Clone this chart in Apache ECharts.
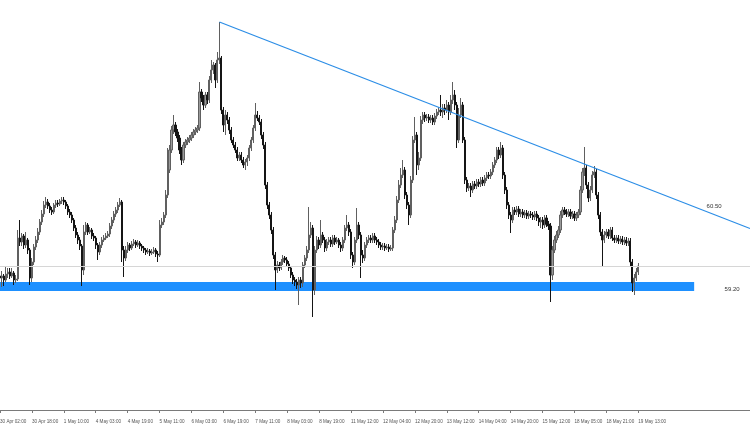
<!DOCTYPE html>
<html><head><meta charset="utf-8">
<script src="https://cdn.jsdelivr.net/npm/echarts/dist/echarts.min.js"></script>
<style>html,body{margin:0;padding:0;background:#fff;overflow:hidden;width:750px;height:430px;position:relative}#c{position:absolute;left:-3px;top:0;width:756px;height:430px}</style>
</head><body><div id="c"></div>
<script>
// Hourly bars; one time label every 16 bars
const tickLabels = ['30 Apr 02:00','30 Apr 18:00','1 May 10:00','4 May 03:00','4 May 19:00','5 May 11:00','6 May 03:00','6 May 19:00','7 May 11:00','8 May 03:00','8 May 19:00','11 May 12:00','12 May 04:00','12 May 20:00','13 May 12:00','14 May 04:00','14 May 20:00','15 May 12:00','18 May 05:00','18 May 21:00','19 May 13:00'];

const opens = [
59.48,59.44,59.48,59.40,59.52,59.56,59.48,59.54,59.40,59.42,
60.24,60.16,60.28,60.10,60.20,60.00,59.44,59.76,60.06,60.20,
60.36,60.56,60.72,60.90,60.96,60.88,60.80,60.76,60.90,60.94,
60.92,60.98,61.00,60.96,60.88,60.76,60.70,60.60,60.44,60.30,
60.20,60.08,59.60,60.36,60.50,60.36,60.40,60.28,60.24,60.10,
59.96,60.10,60.20,60.24,60.28,60.32,60.48,60.60,60.72,60.80,
60.90,60.96,60.00,59.84,60.00,60.10,60.04,60.12,60.16,60.10,
60.14,60.08,60.04,60.00,59.96,59.98,59.94,59.96,60.00,59.92,
59.90,60.50,60.56,60.70,61.10,61.60,62.00,62.40,62.50,62.36,
62.24,62.00,61.80,62.10,62.16,62.20,62.24,62.30,62.36,62.40,
62.44,63.16,63.04,62.90,63.10,63.00,63.40,63.60,63.70,63.40,
63.80,63.84,62.80,62.50,62.70,62.60,62.40,62.20,62.10,62.00,
61.84,61.90,61.80,61.70,61.76,61.84,62.04,62.20,62.44,62.70,
62.64,62.56,62.30,62.10,61.30,60.90,60.70,60.40,59.90,59.60,
59.70,59.64,59.76,59.84,59.80,59.72,59.64,59.50,59.40,59.36,
59.30,59.40,59.34,59.70,59.84,60.00,60.30,60.44,59.20,60.00,
60.20,60.10,60.30,60.20,60.04,60.16,60.20,60.12,60.24,60.16,
60.20,60.10,60.04,60.20,60.44,60.50,60.36,59.90,59.76,60.20,
60.50,60.30,59.90,59.84,60.10,60.20,60.24,60.20,60.28,60.20,
60.16,60.10,60.06,60.08,60.04,60.06,60.02,60.04,60.40,60.60,
61.00,61.30,61.50,61.60,61.10,60.90,60.70,61.40,62.20,62.30,
61.70,61.84,62.60,62.70,62.64,62.66,62.60,62.64,62.56,62.68,
62.76,62.80,62.76,62.84,62.80,62.90,62.76,63.00,63.10,62.90,
62.20,62.70,62.90,62.20,61.40,61.24,61.28,61.20,61.32,61.28,
61.36,61.32,61.40,61.34,61.44,61.50,61.48,61.56,61.70,61.80,
62.00,61.90,62.04,61.50,61.20,60.90,60.70,60.60,60.80,60.76,
60.82,60.72,60.76,60.70,60.74,60.68,60.72,60.70,60.66,60.72,
60.64,60.56,60.60,60.50,60.64,60.52,60.48,59.50,60.00,60.20,
60.30,60.40,60.70,60.80,60.76,60.72,60.76,60.68,60.72,60.64,
60.70,60.76,61.20,61.56,61.64,61.30,61.04,61.20,61.50,61.56,
61.10,60.70,60.36,60.20,60.30,60.36,60.28,60.40,60.24,60.20,
60.24,60.18,60.22,60.16,60.20,60.14,60.18,59.76,59.34,59.44,
59.56];

const closes = [
59.44,59.48,59.40,59.52,59.56,59.48,59.54,59.40,59.42,60.24,
60.16,60.28,60.10,60.20,60.00,59.44,59.76,60.06,60.20,60.36,
60.56,60.72,60.90,60.96,60.88,60.80,60.76,60.90,60.94,60.92,
60.98,61.00,60.96,60.88,60.76,60.70,60.60,60.44,60.30,60.20,
60.08,59.60,60.36,60.50,60.36,60.40,60.28,60.24,60.10,59.96,
60.10,60.20,60.24,60.28,60.32,60.48,60.60,60.72,60.80,60.90,
60.96,60.00,59.84,60.00,60.10,60.04,60.12,60.16,60.10,60.14,
60.08,60.04,60.00,59.96,59.98,59.94,59.96,60.00,59.92,59.90,
60.50,60.56,60.70,61.10,61.60,62.00,62.40,62.50,62.36,62.24,
62.00,61.80,62.10,62.16,62.20,62.24,62.30,62.36,62.40,62.44,
63.16,63.04,62.90,63.10,63.00,63.40,63.60,63.70,63.40,63.80,
63.84,62.80,62.50,62.70,62.60,62.40,62.20,62.10,62.00,61.84,
61.90,61.80,61.70,61.76,61.84,62.04,62.20,62.44,62.70,62.64,
62.56,62.30,62.10,61.30,60.90,60.70,60.40,59.90,59.60,59.70,
59.64,59.76,59.84,59.80,59.72,59.64,59.50,59.40,59.36,59.30,
59.40,59.34,59.70,59.84,60.00,60.30,60.44,59.20,60.00,60.20,
60.10,60.30,60.20,60.04,60.16,60.20,60.12,60.24,60.16,60.20,
60.10,60.04,60.20,60.44,60.50,60.36,59.90,59.76,60.20,60.50,
60.30,59.90,59.84,60.10,60.20,60.24,60.20,60.28,60.20,60.16,
60.10,60.06,60.08,60.04,60.06,60.02,60.04,60.40,60.60,61.00,
61.30,61.50,61.60,61.10,60.90,60.70,61.40,62.20,62.30,61.70,
61.84,62.60,62.70,62.64,62.66,62.60,62.64,62.56,62.68,62.76,
62.80,62.76,62.84,62.80,62.90,62.76,63.00,63.10,62.90,62.20,
62.70,62.90,62.20,61.40,61.24,61.28,61.20,61.32,61.28,61.36,
61.32,61.40,61.34,61.44,61.50,61.48,61.56,61.70,61.80,62.00,
61.90,62.04,61.50,61.20,60.90,60.70,60.60,60.80,60.76,60.82,
60.72,60.76,60.70,60.74,60.68,60.72,60.70,60.66,60.72,60.64,
60.56,60.60,60.50,60.64,60.52,60.48,59.50,60.00,60.20,60.30,
60.40,60.70,60.80,60.76,60.72,60.76,60.68,60.72,60.64,60.70,
60.76,61.20,61.56,61.64,61.30,61.04,61.20,61.50,61.56,61.10,
60.70,60.36,60.20,60.30,60.36,60.28,60.40,60.24,60.20,60.24,
60.18,60.22,60.16,60.20,60.14,60.18,59.76,59.34,59.44,59.56,
59.68];

const lows = [
59.32,59.26,59.28,59.36,59.44,59.42,59.44,59.30,59.34,59.38,
60.08,60.08,60.02,60.04,59.92,59.30,59.36,59.70,60.00,60.14,
60.30,60.50,60.66,60.84,60.82,60.74,60.70,60.72,60.84,60.86,
60.88,60.92,60.90,60.82,60.70,60.64,60.54,60.38,60.24,60.12,
60.00,59.28,59.50,60.30,60.30,60.32,60.22,60.18,60.02,59.80,
59.90,60.04,60.16,60.20,60.24,60.26,60.42,60.54,60.66,60.74,
60.86,59.76,59.46,59.78,59.94,59.98,60.00,60.08,60.04,60.06,
60.02,59.98,59.94,59.90,59.92,59.88,59.90,59.92,59.86,59.76,
59.86,60.44,60.50,60.64,61.04,61.54,61.94,62.32,62.28,62.16,
61.92,61.70,61.74,62.04,62.10,62.14,62.18,62.24,62.30,62.34,
62.38,62.96,62.80,62.84,62.92,62.94,63.34,63.52,63.24,63.34,
63.72,62.72,62.36,62.30,62.52,62.32,62.14,62.04,61.94,61.78,
61.78,61.74,61.64,61.60,61.68,61.78,61.98,62.14,62.38,62.58,
62.50,62.22,62.02,61.22,60.82,60.62,60.32,59.82,59.20,59.54,
59.58,59.60,59.70,59.74,59.66,59.58,59.44,59.32,59.28,59.22,
58.90,59.24,59.26,59.64,59.78,59.94,60.24,58.66,59.10,59.94,
60.02,60.04,60.14,59.96,59.98,60.10,60.06,60.06,60.10,60.12,
60.04,59.96,59.98,60.14,60.38,60.28,59.82,59.64,59.70,60.14,
60.22,59.44,59.74,59.78,60.04,60.14,60.14,60.14,60.14,60.10,
60.04,60.00,60.00,59.98,60.00,59.96,59.98,59.98,60.34,60.54,
60.94,61.24,61.44,61.02,60.82,60.50,60.64,61.34,62.14,61.50,
61.60,61.78,62.52,62.56,62.58,62.54,62.54,62.50,62.50,62.62,
62.70,62.68,62.64,62.70,62.74,62.60,62.70,62.92,62.80,62.04,
62.14,62.64,62.14,61.32,61.16,61.18,61.06,61.14,61.22,61.22,
61.26,61.26,61.28,61.28,61.38,61.42,61.42,61.50,61.64,61.74,
61.82,61.84,61.42,61.12,60.82,60.62,60.34,60.54,60.70,60.70,
60.66,60.66,60.64,60.64,60.62,60.62,60.64,60.60,60.60,60.58,
60.48,60.44,60.42,60.44,60.46,60.40,58.96,59.40,59.94,60.14,
60.24,60.34,60.64,60.70,60.66,60.66,60.62,60.62,60.58,60.58,
60.64,60.70,61.14,61.48,61.22,60.96,60.98,61.14,61.44,61.02,
60.62,60.28,59.66,60.14,60.24,60.22,60.22,60.18,60.14,60.14,
60.12,60.12,60.10,60.10,60.08,60.08,59.68,59.16,59.10,59.38,
59.50];

const highs = [
59.56,59.58,59.52,59.66,59.64,59.64,59.64,59.58,59.50,60.40,
60.60,60.34,60.32,60.36,60.24,60.04,59.84,60.12,60.28,60.44,
60.62,60.80,60.98,61.06,61.02,60.94,60.86,60.94,61.00,61.00,
61.02,61.06,61.06,61.00,60.92,60.82,60.76,60.64,60.50,60.36,
60.26,60.12,60.50,60.56,60.54,60.46,60.44,60.34,60.28,60.14,
60.16,60.26,60.30,60.34,60.38,60.54,60.66,60.78,60.86,60.96,
61.04,61.00,60.08,60.08,60.16,60.14,60.18,60.22,60.20,60.20,
60.18,60.12,60.08,60.04,60.04,60.02,60.02,60.06,60.04,59.98,
60.60,60.64,60.76,61.20,62.04,62.10,62.48,62.70,62.56,62.42,
62.30,62.06,62.16,62.22,62.26,62.30,62.36,62.42,62.46,62.50,
63.36,63.22,63.10,63.16,63.16,63.48,63.80,63.76,63.74,63.96,
64.56,63.88,62.86,62.80,62.76,62.66,62.46,62.26,62.16,62.06,
61.96,61.96,61.86,61.82,61.90,62.10,62.26,62.50,62.94,62.78,
62.70,62.62,62.36,62.16,61.36,60.96,60.76,60.46,59.96,59.78,
59.76,59.82,59.90,59.88,59.86,59.78,59.68,59.56,59.46,59.42,
59.46,59.46,59.76,59.90,60.08,60.86,60.56,60.50,60.08,60.28,
60.26,60.60,60.36,60.26,60.22,60.26,60.26,60.30,60.30,60.26,
60.24,60.16,60.26,60.50,60.70,60.56,60.42,59.96,60.26,60.84,
60.56,60.36,60.00,60.16,60.26,60.30,60.30,60.34,60.34,60.26,
60.22,60.16,60.14,60.14,60.12,60.12,60.10,60.46,60.68,61.08,
61.40,61.64,61.80,61.66,61.16,60.96,61.48,62.28,62.66,62.36,
61.96,62.68,62.76,62.76,62.72,62.72,62.70,62.70,62.74,62.82,
62.86,63.10,62.92,62.92,63.00,62.96,63.10,63.36,63.20,62.96,
62.84,63.04,62.96,62.26,61.46,61.34,61.34,61.38,61.38,61.42,
61.42,61.46,61.46,61.50,61.56,61.56,61.62,61.76,61.86,62.06,
62.06,62.16,62.10,61.56,61.26,60.96,60.76,60.86,60.86,60.88,
60.88,60.82,60.82,60.80,60.80,60.78,60.78,60.76,60.78,60.78,
60.70,60.66,60.66,60.70,60.70,60.58,60.54,60.08,60.28,60.38,
60.48,60.78,60.86,60.86,60.82,60.82,60.82,60.78,60.78,60.76,
60.82,61.28,61.64,62.06,61.70,61.36,61.28,61.58,61.68,61.62,
61.16,60.76,60.42,60.38,60.42,60.42,60.46,60.46,60.30,60.30,
60.30,60.28,60.28,60.26,60.26,60.24,60.24,59.82,59.52,59.64,
59.74];

// Drawn objects (in bar index / price)
const slotCount = 378;             // bars + empty right-hand shift
const trendFrom = [110, 64.56];
const trendTo = [376, 60.43];
const zoneTop = 59.36, zoneBottom = 59.18, zoneEnd = 348;
const bidPrice = 59.67;
const levelTexts = ['60.50', '59.20'];
const levelAnchors = [[358, 60.88], [367, 59.22]];

const categories = [];
for (let i = 0; i < slotCount; i++) categories.push(String(i));
const candles = opens.map((o, i) => [o, closes[i], lows[i], highs[i]]);

const chart = echarts.init(document.getElementById('c'), null, {renderer: 'canvas'});
chart.setOption({
  animation: false,
  backgroundColor: '#ffffff',
  grid: {left: 0, right: 0, top: 0, bottom: 20},
  xAxis: {
    type: 'category', data: categories, boundaryGap: true,
    axisLine: {show: true, lineStyle: {color: '#7a7a7a', width: 1}},
    axisTick: {show: true, alignWithLabel: true, length: 3, lineStyle: {color: '#7a7a7a'},
      interval: function (idx) { return idx % 16 === 0 && (idx / 16) < tickLabels.length; }},
    axisLabel: {show: true, interval: 15, align: 'left', margin: 9, color: '#555', fontSize: 4.6,
      fontFamily: 'Liberation Sans, Arial, sans-serif',
      formatter: function (v, idx) { return tickLabels[idx / 16] || ''; }},
    splitLine: {show: false}
  },
  yAxis: {type: 'value', min: 56.8, max: 65, show: false, splitLine: {show: false}},
  series: [{
    type: 'candlestick',
    data: candles,
    barWidth: 1.6,
    itemStyle: {color: '#9a9a9a', color0: '#151515', borderColor: '#606060', borderColor0: '#151515', borderWidth: 1},
    markArea: {
      silent: true,
      itemStyle: {color: '#1e90ff', opacity: 1},
      data: [[{coord: [0, zoneTop]}, {coord: [zoneEnd, zoneBottom]}]]
    },
    markLine: {
      silent: true, symbol: ['none', 'none'], label: {show: false},
      data: [
        [{coord: trendFrom, lineStyle: {color: '#2b8de6', width: 1.2, type: 'solid'}}, {coord: trendTo}],
        {yAxis: bidPrice, lineStyle: {color: '#d6d6d6', width: 1, type: 'solid'}}
      ]
    },
    markPoint: {
      silent: true, symbol: 'rect', symbolSize: 1,
      itemStyle: {color: 'rgba(0,0,0,0)'},
      label: {show: true, position: 'inside', color: '#333', fontSize: 6, fontFamily: 'Liberation Sans, Arial, sans-serif'},
      data: levelTexts.map((t, i) => ({coord: levelAnchors[i], value: t, label: {formatter: t}}))
    }
  }]
});
</script>
</body></html>
